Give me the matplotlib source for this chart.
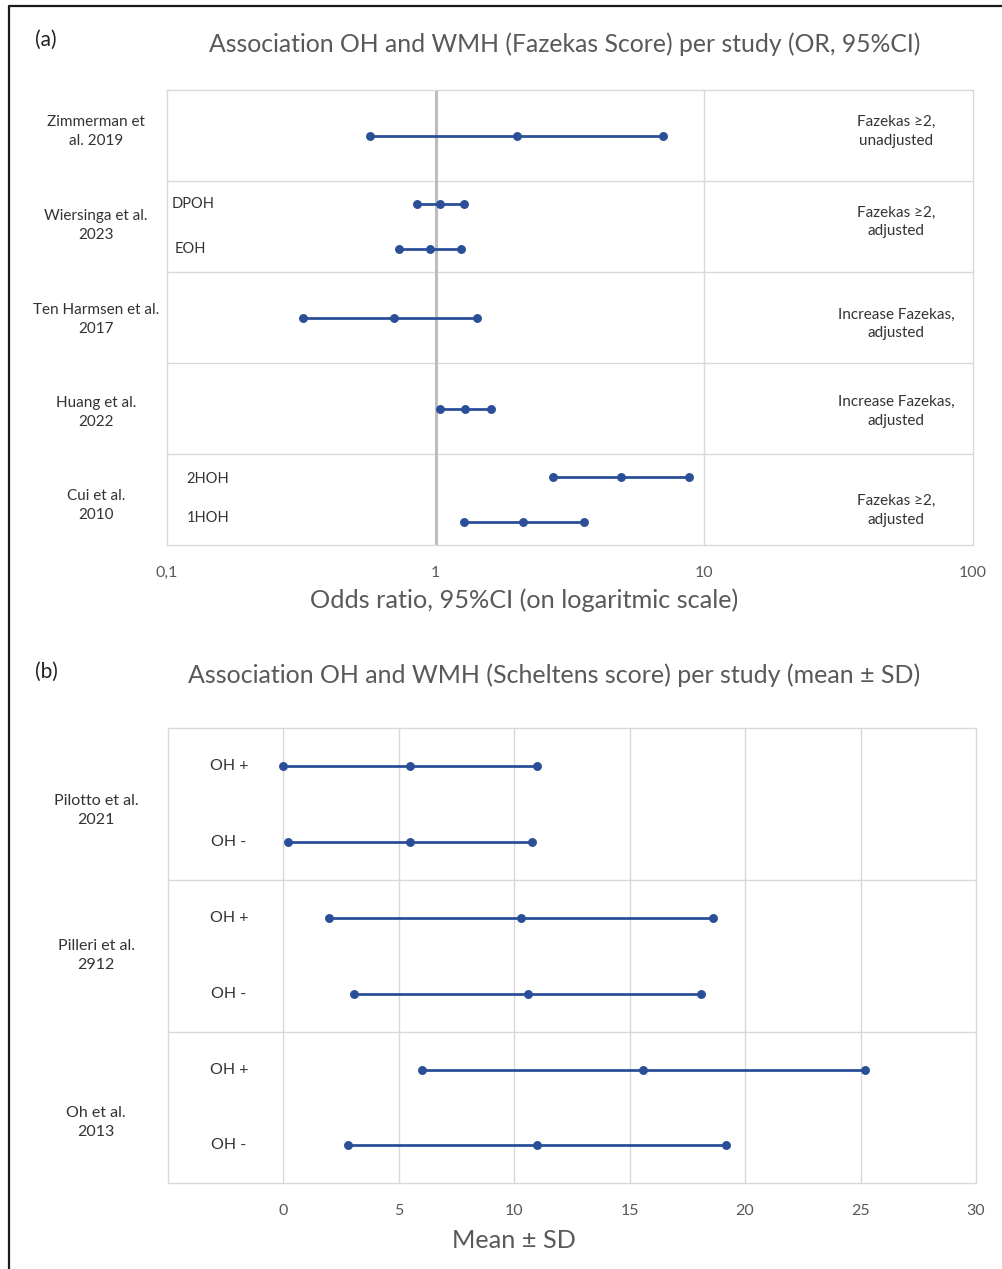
import matplotlib

matplotlib.use("Agg")
import matplotlib.pyplot as plt
from matplotlib.lines import Line2D
from matplotlib.transforms import blended_transform_factory

plt.rcParams["font.family"] = ["Lato", "DejaVu Sans"]

# Panel (a): odds ratios (lower CI, OR, upper CI), row position from top
fazekas_rows = [0.5, 1.25, 1.75, 2.5, 3.5, 4.25, 4.75]
fazekas_low = [0.57, 0.85, 0.73, 0.32, 1.04, 2.74, 1.27]
fazekas_or = [2.0, 1.04, 0.95, 0.70, 1.29, 4.90, 2.12]
fazekas_high = [7.0, 1.27, 1.24, 1.43, 1.60, 8.79, 3.56]
fazekas_studies = ["Zimmerman et\nal. 2019", "Wiersinga et al.\n2023", "Ten Harmsen et al.\n2017",
                   "Huang et al.\n2022", "Cui et al.\n2010"]
fazekas_notes = ["Fazekas \u22652,\nunadjusted", "Fazekas \u22652,\nadjusted", "Increase Fazekas,\nadjusted",
                 "Increase Fazekas,\nadjusted", "Fazekas \u22652,\nadjusted"]
fazekas_subgroups = ["DPOH", "EOH", "2HOH", "1HOH"]
fazekas_ticks = [0.1, 1, 10, 100]
fazekas_ticklabels = ["0,1", "1", "10", "100"]

# Panel (b): Scheltens score mean +/- SD
scheltens_rows = [0.25, 0.75, 1.25, 1.75, 2.25, 2.75]
scheltens_low = [0.0, 0.22, 1.99, 3.08, 6.0, 2.79]
scheltens_mean = [5.49, 5.49, 10.28, 10.59, 15.58, 10.99]
scheltens_high = [11.0, 10.79, 18.6, 18.08, 25.19, 19.18]
scheltens_groups = ["OH +", "OH -", "OH +", "OH -", "OH +", "OH -"]
scheltens_studies = ["Pilotto et al.\n2021", "Pilleri et al.\n2912", "Oh et al.\n2013"]
scheltens_ticks = [0, 5, 10, 15, 20, 25, 30]

W, H = 1003, 1269
BLUE = "#2A4F98"
GRID = "#D9D9D9"
LABEL = "#333333"
GREY = "#595959"


def px_axes(x0, y0, x1, y1):
    return [x0 / W, 1 - y1 / H, (x1 - x0) / W, (y1 - y0) / H]


def style_axes(ax):
    for spine in ax.spines.values():
        spine.set_color(GRID)
        spine.set_linewidth(1.0)
    ax.tick_params(axis="x", length=0, pad=15, labelsize=11.5, labelcolor=GREY)
    ax.tick_params(axis="y", length=0, labelleft=False)
    ax.set_yticks([])


def draw_ranges(ax, rows, low, mid, high):
    for y, lo, m, hi in zip(rows, low, mid, high):
        ax.plot([lo, m, hi], [y, y, y], color=BLUE, lw=2.0, marker="o", ms=5.4,
                solid_capstyle="butt", zorder=3)


fig = plt.figure(figsize=(W / 100, H / 100), dpi=100)

# ---------- panel (a)
ax_a = fig.add_axes(px_axes(167, 90, 973, 545))
ax_a.set_xscale("log")
ax_a.set_xlim(0.1, 100)
ax_a.set_ylim(5, 0)
style_axes(ax_a)
ax_a.set_xticks(fazekas_ticks)
ax_a.set_xticklabels(fazekas_ticklabels)
ax_a.minorticks_off()
for y in range(1, 5):
    ax_a.axhline(y, color=GRID, lw=1.0, zorder=1)
ax_a.axvline(10, color=GRID, lw=1.0, zorder=1)
ax_a.axvline(1, color="#BDBDBD", lw=2.2, zorder=2)
draw_ranges(ax_a, fazekas_rows, fazekas_low, fazekas_or, fazekas_high)

left_tr = blended_transform_factory(fig.transFigure, ax_a.transData)
in_tr = blended_transform_factory(ax_a.transAxes, ax_a.transData)
for name, y in zip(fazekas_studies, [0.46, 1.49, 2.52, 3.54, 4.57]):
    ax_a.text(96 / W, y, name, transform=left_tr, ha="center", va="center",
              fontsize=11, color=LABEL, linespacing=1.45)
for note, y in zip(fazekas_notes, [0.46, 1.45, 2.57, 3.53, 4.62]):
    ax_a.text(0.9045, y, note, transform=in_tr, ha="center", va="center",
              fontsize=11, color=LABEL, linespacing=1.45)
for label, xf, y in zip(fazekas_subgroups, [0.0062, 0.0099, 0.0245, 0.0245], [1.25, 1.75, 4.28, 4.7]):
    ax_a.text(xf, y, label, transform=in_tr, ha="left", va="center", fontsize=10.5, color=LABEL)

fig.text(46 / W, 1 - 40 / H, "(a)", ha="center", va="center", fontsize=15, color="#222222")
fig.text(565 / W, 1 - 44 / H, "Association OH and WMH (Fazekas Score) per study (OR, 95%CI)",
         ha="center", va="center", fontsize=17.8, color=GREY)
fig.text(524 / W, 1 - 600 / H, "Odds ratio, 95%CI (on logaritmic scale)",
         ha="center", va="center", fontsize=18.2, color=GREY)

# ---------- panel (b)
ax_b = fig.add_axes(px_axes(167.7, 728.3, 976, 1183.3))
ax_b.set_xlim(-5, 30)
ax_b.set_ylim(3, 0)
style_axes(ax_b)
ax_b.set_xticks(scheltens_ticks)
for x in scheltens_ticks[:-1]:
    ax_b.axvline(x, color=GRID, lw=1.0, zorder=1)
for y in range(1, 3):
    ax_b.axhline(y, color=GRID, lw=1.0, zorder=1)
draw_ranges(ax_b, scheltens_rows, scheltens_low, scheltens_mean, scheltens_high)

left_tr_b = blended_transform_factory(fig.transFigure, ax_b.transData)
for name, y in zip(scheltens_studies, [0.54, 1.50, 2.60]):
    ax_b.text(96 / W, y, name, transform=left_tr_b, ha="center", va="center",
              fontsize=11.5, color=LABEL, linespacing=1.45)
for label, y in zip(scheltens_groups, scheltens_rows):
    ax_b.text(229 / W, y, label, transform=left_tr_b, ha="center", va="center",
              fontsize=11.5, color=LABEL)

fig.text(46 / W, 1 - 672 / H, "(b)", ha="center", va="center", fontsize=15, color="#222222")
fig.text(554 / W, 1 - 675 / H, "Association OH and WMH (Scheltens score) per study (mean \u00b1 SD)",
         ha="center", va="center", fontsize=18, color=GREY)
fig.text(514 / W, 1 - 1240 / H, "Mean \u00b1 SD", ha="center", va="center", fontsize=18.2, color=GREY)

# outer frame (left and top edges visible)
fig.add_artist(Line2D([9 / W, 9 / W, 1.0], [0.0, 1 - 6 / H, 1 - 6 / H], transform=fig.transFigure,
                      color="#1a1a1a", lw=1.6))

fig.savefig("out.png", dpi=100)
